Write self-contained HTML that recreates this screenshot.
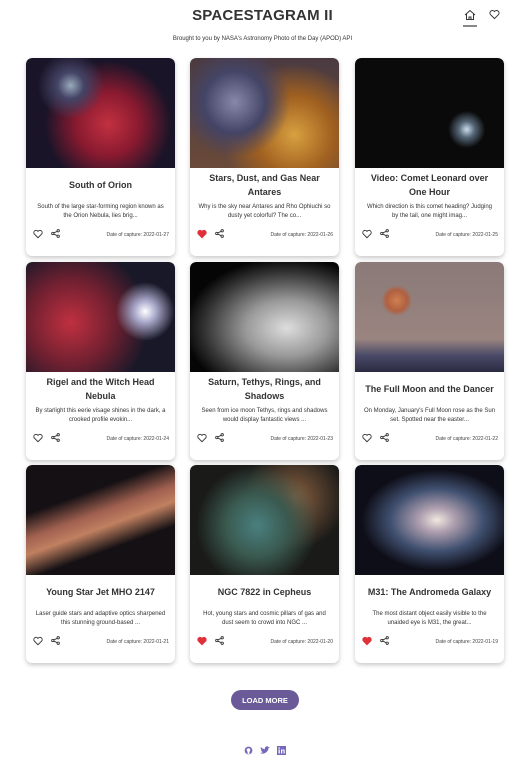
<!DOCTYPE html>
<html><head><meta charset="utf-8"><style>
body{margin:0;width:525px;height:769px;background:#fff;font-family:"Liberation Sans",sans-serif;color:#333;position:relative;overflow:hidden}
h1{position:absolute;top:7px;left:0;width:525px;text-align:center;margin:0;font-size:15px;font-weight:bold;color:#333;letter-spacing:0.2px}
.sub{position:absolute;top:36px;left:0;width:525px;text-align:center;font-size:6px;color:#333}
.nav{position:absolute;top:10px;font-size:12px;color:#333}
.card{position:absolute;width:149px;height:198px;border-radius:6px;box-shadow:0 2px 5px rgba(0,0,0,.22);background:#fff;overflow:hidden}
.img{height:110px;border-radius:6px 6px 0 0}
.title{position:absolute;top:113px;left:6px;right:6px;height:28px;display:flex;align-items:center;justify-content:center;text-align:center;font-size:9px;font-weight:bold;line-height:14px;color:#333}
.desc{position:absolute;top:145px;left:8px;right:8px;text-align:center;font-size:6px;line-height:9px;color:#333}
.foot{position:absolute;top:171px;left:7px;right:6px;height:12px}
.heart{position:absolute;left:0;top:0;font-size:11px;line-height:12px}
.share{position:absolute;left:18px;top:0;font-size:9px;line-height:12px}
.date{position:absolute;right:0;top:3px;font-size:5px;color:#444}
.btn{position:absolute;left:231px;top:690px;width:68px;height:20px;border-radius:10px;background:#6a5b98;color:#fff;font-size:7.5px;font-weight:bold;text-align:center;line-height:20px;border:none;font-family:"Liberation Sans",sans-serif}
.soc{position:absolute;top:746px;font-size:9px;color:#7468b8;font-weight:bold}
</style></head><body>
<h1>SPACESTAGRAM II</h1>
<div class="sub">Brought to you by NASA's Astronomy Photo of the Day (APOD) API</div>
<div class="nav" style="left:464px;top:9px">
<svg width="12" height="12" viewBox="0 0 12 12"><path d="M1 6 L6 1.5 L11 6 M2.5 5 V10.5 H9.5 V5 M5 10.5 V8 H7 V10.5" fill="none" stroke="#333" stroke-width="1"/></svg></div>
<div style="position:absolute;left:463px;top:25px;width:14px;height:1.5px;background:#888"></div>
<div class="nav" style="left:489px;top:9px">
<svg width="11" height="11" viewBox="0 0 12 12"><path d="M6 10.5 L1.5 6 A2.5 2.5 0 0 1 6 2.8 A2.5 2.5 0 0 1 10.5 6 Z" fill="none" stroke="#333" stroke-width="1"/></svg></div>
<div id="grid"></div>
<button class="btn">LOAD MORE</button>
<div class="soc" style="left:244px"><svg width="9" height="9" viewBox="0 0 10 10"><circle cx="5" cy="5" r="4.3" fill="#7468b8"/><circle cx="5" cy="4.5" r="2" fill="#fff"/><rect x="4" y="6" width="2" height="3" fill="#fff"/></svg></div>
<div class="soc" style="left:260px"><svg width="10" height="9" viewBox="0 0 10 9"><path d="M0 7 Q3 8.5 6 6.5 Q8.5 4.5 8.5 2 L10 1 L8.5 1 Q7 -0.5 5.2 1.2 Q4.5 2 5 3.2 Q2.5 3 0.8 1 Q0.2 3 2 4.3 L1 4.2 Q1.5 5.8 3 6 Q1.8 7 0 7Z" fill="#7468b8"/></svg></div>
<div class="soc" style="left:277px"><svg width="9" height="9" viewBox="0 0 9 9"><rect width="9" height="9" fill="#7468b8"/><rect x="1.5" y="3.5" width="1.3" height="4" fill="#fff"/><circle cx="2.15" cy="2" r="0.8" fill="#fff"/><path d="M4 3.5h1.2v.6q.5-.8 1.5-.7 1 .1 1 1.5V7.5H6.5V5q0-.7-.6-.7-.7 0-.7.8v2.4H4z" fill="#fff"/></svg></div>
<script>
const titles=["South of Orion","Stars, Dust, and Gas Near Antares","Video: Comet Leonard over One Hour","Rigel and the Witch Head Nebula","Saturn, Tethys, Rings, and Shadows","The Full Moon and the Dancer","Young Star Jet MHO 2147","NGC 7822 in Cepheus","M31: The Andromeda Galaxy"];
const descs=["South of the large star-forming region known as the Orion Nebula, lies brig...","Why is the sky near Antares and Rho Ophiuchi so dusty yet colorful? The co...","Which direction is this comet heading? Judging by the tail, one might imag...","By starlight this eerie visage shines in the dark, a crooked profile evokin...","Seen from ice moon Tethys, rings and shadows would display fantastic views ...","On Monday, January's Full Moon rose as the Sun set. Spotted near the easter...","Laser guide stars and adaptive optics sharpened this stunning ground-based ...","Hot, young stars and cosmic pillars of gas and dust seem to crowd into NGC ...","The most distant object easily visible to the unaided eye is M31, the great..."];
const dates=["2022-01-27","2022-01-26","2022-01-25","2022-01-24","2022-01-23","2022-01-22","2022-01-21","2022-01-20","2022-01-19"];
const liked=[0,1,0,0,0,0,0,1,1];
const bgs=[
"radial-gradient(circle at 30% 25%,#9ab 0,#446 10%,transparent 25%),radial-gradient(circle at 55% 60%,#c23040 0,#8a1a30 30%,transparent 60%),#1a1428",
"radial-gradient(circle at 30% 40%,#88a 0,#446 25%,transparent 45%),radial-gradient(circle at 70% 70%,#d8a040 0,#a06020 30%,transparent 55%),linear-gradient(#4a3a40,#6a4a3a)",
"radial-gradient(circle at 75% 65%,#cde 0,#567 6%,transparent 14%),#0a0a0a",
"radial-gradient(circle at 80% 45%,#fff 0,#aac 8%,transparent 22%),radial-gradient(circle at 30% 55%,#c03040 0,#702030 35%,transparent 65%),#181828",
"radial-gradient(ellipse at 65% 60%,#ddd 0,#999 30%,#333 60%,transparent 75%),#050505",
"radial-gradient(circle at 28% 35%,#d08050 0,#b06040 8%,transparent 12%),linear-gradient(#8a7a78 0,#9a8480 70%,#4a4a68 85%,#2a2a40 100%)",
"linear-gradient(160deg,transparent 30%,#a06050 45%,#c08060 55%,transparent 70%),#141014",
"radial-gradient(circle at 45% 55%,#4a8080 0,#3a5a50 30%,transparent 60%),radial-gradient(circle at 70% 30%,#8a6040 0,transparent 40%),#1a1a18",
"radial-gradient(ellipse at 55% 50%,#f0e8e0 0,#b0a0b0 15%,#405070 40%,transparent 65%),#0e0e18"];
const xs=[26,190,355], ys=[58,262,465];
const grid=document.getElementById('grid');
titles.forEach((t,i)=>{
 const c=document.createElement('div');c.className='card';
 
 
 c.style.left=xs[i%3]+'px';c.style.top=ys[Math.floor(i/3)]+'px';
 c.innerHTML=`<div class="img" style="background:${bgs[i]}"></div>
<div class="title">${t}</div>
<div class="desc">${descs[i]}</div>
<div class="foot"><span class="heart"><svg width="10" height="10" viewBox="0 0 12 12"><path d="M6 10.5 L1.5 6 A2.5 2.5 0 0 1 6 2.8 A2.5 2.5 0 0 1 10.5 6 Z" fill="${liked[i]?'#e0303a':'none'}" stroke="${liked[i]?'#e0303a':'#333'}" stroke-width="1.1"/></svg></span>
<span class="share"><svg width="9" height="9" viewBox="0 0 10 10"><circle cx="8" cy="2" r="1.3" fill="none" stroke="#333"/><circle cx="2" cy="5" r="1.3" fill="none" stroke="#333"/><circle cx="8" cy="8" r="1.3" fill="none" stroke="#333"/><path d="M3 4.4 7 2.6M3 5.6 7 7.4" stroke="#333"/></svg></span>
<span class="date">Date of capture: ${dates[i]}</span></div>`;
 grid.appendChild(c);
});
</script>
</body></html>
